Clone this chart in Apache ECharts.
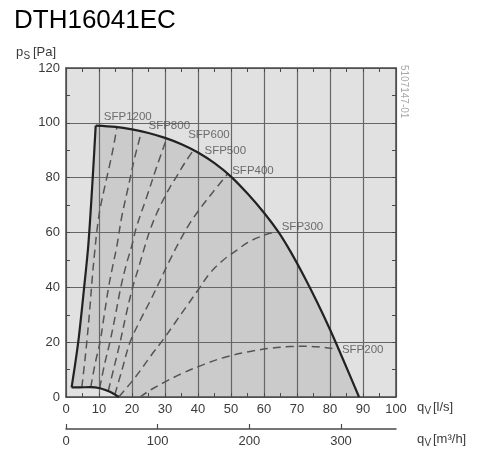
<!DOCTYPE html>
<html><head><meta charset="utf-8">
<script src="https://cdn.jsdelivr.net/npm/echarts@6/dist/echarts.min.js"></script>
<style>html,body{margin:0;padding:0;background:#fff}#c{width:500px;height:451px}</style>
</head><body><div id="c"></div>
<script>
// ---- data ----
const chartTitle = 'DTH16041EC';
const drawingCode = '5107147-01';
const m3hTicks = [0, 100, 200, 300];

// fan envelope (l/s, Pa)
const envBottom = [[16,0],[13.3,1.9],[10.3,3.2],[7.3,3.6],[4,3.5],[1.7,3.5]];
const envLeft = [[1.7,3.5],[3.7,20],[5.5,40],[6.8,56],[8.1,80],[9,99]];
const envTop = [[9,99],[15,98.5],[20,97.6],[25,96.3],[30,94.5],[35,92.2],[40,89.2],[45,85.3],[50,80.4],[55,74.2],[60,67.2],[64.3,60.3],[68,53.1],[72.4,43.4],[76,34.8],[80,24.6],[84,13.6],[88.8,0]];

const sfpNames = ['SFP1200','SFP800','SFP600','SFP500','SFP400','SFP300','SFP200'];
const sfp1200 = [[4.8,3.6],[5.6,12],[6.3,20],[7.2,32],[8.0,44],[8.7,53],[9.4,61],[10.3,68.5],[11.8,77],[13.3,85],[14.5,92],[15.4,98.3]];
const sfp800 = [[7.5,3.6],[8.8,12],[10.3,20],[11.6,30],[12.9,40],[14.2,48],[15.4,55],[16.9,65.8],[18.9,76.8],[20.9,87.7],[22.9,96.85]];
const sfp600 = [[10.2,3.2],[11.7,12],[13.3,20],[15,30],[16.6,40],[18.2,48],[19.9,55],[21.4,62.2],[24.5,73.1],[27.5,84],[30.5,94.3]];
const sfp500 = [[12.8,2.2],[14.6,11],[16.4,20],[18.2,30],[20.2,40],[22.2,48],[23.9,55],[25.5,61],[27.5,67],[29.5,72],[31.5,76.5],[33.5,80.4],[36,85.4],[38.6,90]];
const sfp400 = [[14.8,0.9],[17,10],[19.4,20],[22.5,28],[25.5,35],[28.5,42.5],[31.5,50],[34.5,57],[37.6,63.5],[40.5,68.5],[44.5,74.7],[49,81.4]];
const sfp300 = [[16,0],[18,2.8],[20,5.7],[22.5,9.6],[25.5,14.7],[29.5,21],[33,27],[36.5,33],[40,39],[43.5,45],[47.5,49.8],[51.7,53.5],[55,56.3],[58.5,58.3],[62,59.8],[64.3,60.3]];
const sfp200 = [[22.4,0],[24.5,1.7],[26.5,3.2],[30,5.5],[35,8.5],[42,12],[48.7,14.7],[55.8,16.6],[62,17.8],[68,18.4],[72,18.5],[76,18.3],[80,17.8],[82.6,17.4]];
const sfpSeries = [sfp1200, sfp800, sfp600, sfp500, sfp400, sfp300, sfp200];

// ---- styles ----
const labelOffsets = [[-13.5,-11],[6.4,-5.5],[21,-4],[10.6,0.2],[4,-3.2],[3,-4.6],[2.8,0.7]];
const FONT = '"Liberation Sans", Arial, sans-serif';
const gridColor = '#666666';
const frameColor = '#4a4a4a';

const chart = echarts.init(document.getElementById('c'), null, {renderer: 'canvas'});

const envelopePolygon = envBottom.concat(envLeft.slice(1), envTop.slice(1));

function frameAxis(extra) {
  return Object.assign({
    axisLine: {show: true, onZero: false, lineStyle: {color: frameColor, width: 1.5}},
    axisTick: {show: true, inside: true, length: 4, lineStyle: {color: frameColor}},
    minorTick: {show: true, splitNumber: 2, length: 4, lineStyle: {color: frameColor, width: 1}},
    axisLabel: {show: false},
    splitLine: {show: false}
  }, extra);
}

const series = [];
series.push({
  type: 'custom', z: 1, silent: true,
  data: [[0, 0]],
  renderItem: function (params, api) {
    return {
      type: 'polygon',
      shape: {points: envelopePolygon.map(p => api.coord(p))},
      style: {fill: '#cbcbcb'}
    };
  }
});
sfpSeries.forEach((d, i) => {
  series.push({
    type: 'line', name: sfpNames[i], data: d, z: 8,
    showSymbol: false, symbol: 'none', smooth: 0.35, silent: true,
    lineStyle: {color: '#555', width: 1.5, type: [8, 5]}
  });
});
[envBottom, envLeft, envTop].forEach(d => {
  series.push({
    type: 'line', data: d, z: 9, showSymbol: false, symbol: 'none', smooth: 0.3, silent: true,
    lineStyle: {color: '#222', width: 2.2}
  });
});
series.push({
  type: 'scatter', z: 10, silent: true, symbolSize: 1,
  itemStyle: {color: 'rgba(0,0,0,0)'},
  data: sfpSeries.map((d, i) => ({
    value: d[d.length - 1],
    label: {
      show: true, position: 'right', distance: 0, offset: labelOffsets[i],
      formatter: sfpNames[i], color: '#4e4e4e', fontSize: 11.5, fontFamily: FONT
    }
  }))
});

const option = {
  animation: false,
  backgroundColor: '#ffffff',
  grid: {left: 66, right: 104, top: 68, bottom: 54, show: true, backgroundColor: '#e1e1e1', borderWidth: 0, z: 0},
  xAxis: [
    frameAxis({
      type: 'value', position: 'bottom', min: 0, max: 100, interval: 10, z: 3,
      axisLabel: {show: true, margin: 6, color: '#3a3a3a', fontSize: 13, fontFamily: FONT},
      splitLine: {show: true, lineStyle: {color: gridColor, width: 1.2}}
    }),
    frameAxis({type: 'value', position: 'top', min: 0, max: 100, interval: 10, z: 3}),
    {
      type: 'value', position: 'bottom', offset: 32, min: 0, max: 360, z: 3,
      axisLine: {show: true, onZero: false, lineStyle: {color: frameColor, width: 1.5}},
      axisTick: {show: true, inside: true, length: 5, customValues: m3hTicks, lineStyle: {color: frameColor, width: 1.2}},
      axisLabel: {show: true, customValues: m3hTicks, margin: 6, color: '#3a3a3a', fontSize: 13, fontFamily: FONT},
      splitLine: {show: false}
    }
  ],
  yAxis: [
    frameAxis({
      type: 'value', position: 'left', min: 0, max: 120, interval: 20, z: 3,
      axisLabel: {show: true, margin: 6, color: '#3a3a3a', fontSize: 13, fontFamily: FONT},
      splitLine: {show: true, lineStyle: {color: gridColor, width: 1.2}}
    }),
    frameAxis({type: 'value', position: 'right', min: 0, max: 120, interval: 20, z: 3})
  ],
  graphic: [
    {type: 'text', left: 14, top: 8, style: {text: chartTitle, fontSize: 26, fontFamily: FONT, fill: '#000'}},
    {type: 'text', x: 16, y: 52, style: {text: 'p', fontSize: 13, fontFamily: FONT, fill: '#3a3a3a', verticalAlign: 'middle'}},
    {type: 'text', x: 23.5, y: 56, style: {text: 'S', fontSize: 10, fontFamily: FONT, fill: '#3a3a3a', verticalAlign: 'middle'}},
    {type: 'text', x: 33, y: 52, style: {text: '[Pa]', fontSize: 13, fontFamily: FONT, fill: '#3a3a3a', verticalAlign: 'middle'}},
    {type: 'text', x: 417, y: 407, style: {text: 'q', fontSize: 13, fontFamily: FONT, fill: '#3a3a3a', verticalAlign: 'middle'}},
    {type: 'text', x: 424.5, y: 411, style: {text: 'V', fontSize: 10, fontFamily: FONT, fill: '#3a3a3a', verticalAlign: 'middle'}},
    {type: 'text', x: 433, y: 407, style: {text: '[l/s]', fontSize: 13, fontFamily: FONT, fill: '#3a3a3a', verticalAlign: 'middle'}},
    {type: 'text', x: 417, y: 439, style: {text: 'q', fontSize: 13, fontFamily: FONT, fill: '#3a3a3a', verticalAlign: 'middle'}},
    {type: 'text', x: 424.5, y: 443, style: {text: 'V', fontSize: 10, fontFamily: FONT, fill: '#3a3a3a', verticalAlign: 'middle'}},
    {type: 'text', x: 433, y: 439, style: {text: '[m\u00b3/h]', fontSize: 13, fontFamily: FONT, fill: '#3a3a3a', verticalAlign: 'middle'}},
    {type: 'text', x: 404, y: 65, rotation: -Math.PI / 2, style: {text: drawingCode, fontSize: 10, fontFamily: FONT, fill: '#a8a8a8', verticalAlign: 'middle', align: 'left'}}
  ],
  series: series
};
chart.setOption(option);
</script>
</body></html>
